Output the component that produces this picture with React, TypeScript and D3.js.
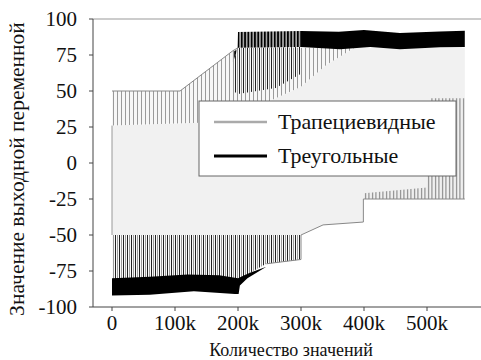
import React from "react";
import * as d3 from "d3";

// x in thousands of values, y = output value
const xTicks = [0, 100, 200, 300, 400, 500];
const xTickLabels = ["0", "100k", "200k", "300k", "400k", "500k"];
const yTicks = [-100, -75, -50, -25, 0, 25, 50, 75, 100];
const yTickLabels = ["-100", "-75", "-50", "-25", "0", "25", "50", "75", "100"];
const seriesNames = ["Трапециевидные", "Треугольные"];

// Trapezoidal (gray) series envelopes
const trapUpperOuter: [number, number][] = [[0, 50], [108, 50], [192, 78], [200, 80], [560, 80]];
const trapUpperInner: [number, number][] = [[0, 26], [140, 28], [245, 42], [300, 53], [340, 68], [385, 80], [560, 80]];
const trapLowerInner: [number, number][] = [[0, -50], [300, -50], [335, -43], [399, -41], [399, -25], [560, -25]];
const trapLowerOuter: [number, number][] = [[0, -82], [200, -82], [203, -80], [220, -76], [245, -70], [300, -67], [300, -50], [335, -43], [399, -41], [399, -25], [560, -25]];
const trapLowerSpikeTop: [number, number][] = [[400, -21], [500, -17], [505, 45], [560, 45]];
const trapLowerSpikeBase: [number, number][] = [[400, -25], [560, -25]];

// Triangular (black) series envelopes
const triUpperOuter: [number, number][] = [[192, 77], [199, 79], [200, 91], [300, 91.7], [360, 91.2], [400, 92.4], [457, 90.2], [520, 91.3], [560, 91.8]];
const triUpperBand: [number, number][] = [[192, 70], [200, 80], [300, 80.5], [362, 79], [410, 80.5], [457, 79], [521, 80.3], [560, 80.5]];
const triUpperSpikes: [number, number][] = [[192, 50], [200, 48], [260, 52], [300, 62]];
const triLowerOuter: [number, number][] = [[0, -92], [60, -91.5], [130, -89], [195, -91], [201, -91], [203, -85], [215, -80], [245, -72]];
const triLowerBand: [number, number][] = [[0, -80], [60, -79], [120, -77.5], [170, -78], [200, -80], [210, -78], [220, -76], [245, -72]];
const lowerSpikeTop: [number, number][] = [[0, -50], [300, -50]];

const W = 481;
const H = 360;
const left = 93, right = 483, top = 19, bottom = 307;
const FONT = "'Liberation Serif', 'Times New Roman', Times, serif";

export default function App() {
  const x = d3.scaleLinear().domain([0, 500]).range([112, 427]);
  const y = d3.scaleLinear().domain([-100, 100]).range([bottom, top]);
  const line = d3.line<[number, number]>().x((d) => x(d[0])).y((d) => y(d[1]));
  const band = (t: [number, number][], b: [number, number][]) =>
    (line([...t, ...b.slice().reverse()]) || "") + "Z";
  const upto = (a: [number, number][], k: number) => a.filter((p) => p[0] <= k);
  const from = (a: [number, number][], k: number) => a.filter((p) => p[0] >= k);

  const lowerSpikeBottom = upto(trapLowerOuter, 300).filter((p, i, arr) => !(p[0] === 300 && i === arr.length - 1 && p[1] === -50));
  const ts = { fontFamily: FONT };

  return (
    <svg width={W} height={H} style={{ position: "absolute", left: 0, top: 0, background: "#fff", fontFamily: FONT }}>
      <defs>
        <pattern id="hGray" patternUnits="userSpaceOnUse" width={4} height={10}>
          <rect x={1} y={0} width={1} height={10} fill="#9a9a9a" />
        </pattern>
        <pattern id="hGrayDark" patternUnits="userSpaceOnUse" width={3.5} height={10}>
          <rect x={1} y={0} width={1} height={10} fill="#777" />
        </pattern>
        <pattern id="hDark" patternUnits="userSpaceOnUse" width={4} height={10}>
          <rect x={3} y={0} width={1} height={10} fill="#222" />
        </pattern>
        <pattern id="hBlackDense" patternUnits="userSpaceOnUse" width={3.3} height={10}>
          <rect x={0} y={0} width={2} height={10} fill="#000" />
          <rect x={2} y={0} width={1.3} height={10} fill="#aaa" />
        </pattern>
        <clipPath id="plot">
          <rect x={left} y={top} width={right - left} height={bottom - top} />
        </clipPath>
      </defs>

      <g clipPath="url(#plot)">
        <path d={band(trapUpperInner, trapLowerInner)} fill="#f1f1f1" />
        <path d={band(trapUpperOuter, trapUpperInner)} fill="#f7f7f7" />
        <path d={band(trapUpperOuter, trapUpperInner)} fill="url(#hGray)" />
        <path d={band(lowerSpikeTop, lowerSpikeBottom)} fill="#fafafa" />
        <path d={band(lowerSpikeTop, lowerSpikeBottom)} fill="url(#hGray)" />
        <path d={band(lowerSpikeTop, lowerSpikeBottom)} fill="url(#hDark)" />
        <path d={band(trapLowerSpikeTop, trapLowerSpikeBase)} fill="url(#hGrayDark)" />
        <path d={line(upto(trapUpperOuter, 200)) || ""} fill="none" stroke="#888" strokeWidth={1} />
        <path d={line(from(trapLowerOuter, 245)) || ""} fill="none" stroke="#888" strokeWidth={1} />
        <path d={line([[0, trapLowerInner[0][1]], [0, trapUpperInner[0][1]]]) || ""} fill="none" stroke="#999" strokeWidth={1} />

        <path d={band(upto(triUpperBand, 300), triUpperSpikes)} fill="url(#hDark)" />
        <path d={band(upto(triUpperOuter, 300), upto(triUpperBand, 300))} fill="url(#hBlackDense)" />
        <path d={band(from(triUpperOuter, 300), from(triUpperBand, 300))} fill="#000" />
        <path d={band(triLowerBand, triLowerOuter)} fill="#000" />
      </g>

      <line x1={left} x2={right} y1={top} y2={top} stroke="#999" />
      <line x1={left} x2={left} y1={top} y2={bottom} stroke="#444" />
      <line x1={left} x2={right} y1={bottom} y2={bottom} stroke="#444" />

      {yTicks.map((t, i) => (
        <g key={"y" + t}>
          <line x1={left - 4} x2={left} y1={y(t)} y2={y(t)} stroke="#444" />
          <text x={77} y={y(t)} dy="0.35em" textAnchor="end" fontSize={21} fill="#111" style={ts}>{yTickLabels[i]}</text>
        </g>
      ))}
      {xTicks.map((t, i) => (
        <g key={"x" + t}>
          <line x1={x(t)} x2={x(t)} y1={bottom} y2={bottom + 4} stroke="#444" />
          <text x={x(t)} y={330} textAnchor="middle" fontSize={21} fill="#111" style={ts}>{xTickLabels[i]}</text>
        </g>
      ))}
      <text x={291} y={356} textAnchor="middle" fontSize={18} fill="#111" style={ts}>Количество значений</text>
      <text transform="translate(24,169) rotate(-90)" textAnchor="middle" fontSize={21.5} fill="#111" style={ts}>Значение выходной переменной</text>

      <rect x={199} y={101} width={257} height={75} fill="#fff" stroke="#666" />
      <line x1={214} x2={267} y1={122} y2={122} stroke="#aaa" strokeWidth={2.5} />
      <line x1={214} x2={267} y1={156} y2={156} stroke="#000" strokeWidth={3} />
      <text x={278} y={129} fontSize={22} fill="#111" style={ts}>{seriesNames[0]}</text>
      <text x={278} y={163} fontSize={22} fill="#111" style={ts}>{seriesNames[1]}</text>
    </svg>
  );
}
